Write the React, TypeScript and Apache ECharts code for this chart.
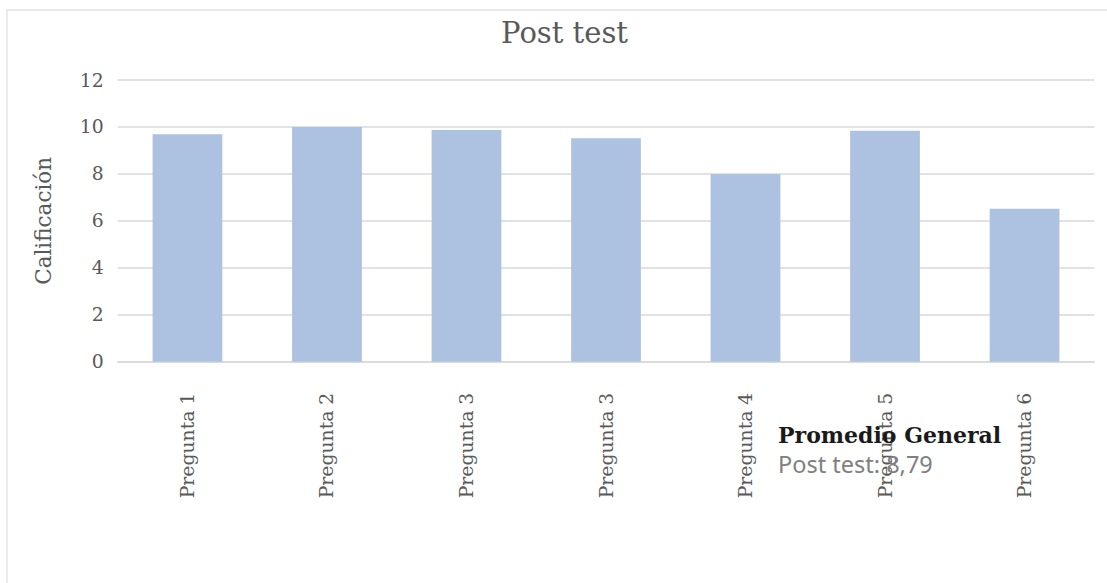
import React, { useEffect, useRef } from "react";
import * as echarts from "echarts";

const categories = ["Pregunta 1", "Pregunta 2", "Pregunta 3", "Pregunta 3", "Pregunta 4", "Pregunta 5", "Pregunta 6"];
const values = [9.69, 10, 9.87, 9.52, 8.0, 9.84, 6.52];
const titleText = "Post test";
const yAxisName = "Calificación";
const noteTitle = "Promedio General";
const noteText = "Post test: 8,79";

const SERIF = "'DejaVu Serif', serif";

export default function App() {
  const ref = useRef<HTMLDivElement>(null);
  useEffect(() => {
    document.body.style.margin = "0";
    const chart = echarts.init(ref.current!, undefined, { renderer: "svg" });
    chart.setOption({
      animation: false,
      backgroundColor: "#ffffff",
      textStyle: { fontFamily: SERIF },
      grid: { left: 117.7, right: 12.7, top: 80, bottom: 221.3, containLabel: false },
      xAxis: {
        type: "category",
        data: categories,
        axisLine: { show: true, lineStyle: { color: "#d9d9d9", width: 1.5 } },
        axisTick: { show: false },
        axisLabel: {
          rotate: 90,
          margin: 31,
          fontSize: 18.8,
          color: "#595959",
          fontFamily: SERIF,
          interval: 0,
        },
      },
      yAxis: {
        type: "value",
        min: 0,
        max: 12,
        interval: 2,
        name: yAxisName,
        nameLocation: "middle",
        nameGap: 63,
        nameTextStyle: { fontSize: 21.5, color: "#595959", fontFamily: SERIF },
        axisLine: { show: false },
        axisTick: { show: false },
        axisLabel: { fontSize: 18.8, color: "#595959", margin: 14, fontFamily: SERIF },
        splitLine: { lineStyle: { color: "#d9d9d9", width: 1.5 } },
      },
      series: [
        {
          type: "bar",
          data: values,
          barWidth: "50%",
          itemStyle: { color: "#adc2e0" },
        },
      ],
      graphic: [
        {
          type: "rect",
          shape: { x: 7, y: 10, width: 1300, height: 800 },
          style: { fill: "none", stroke: "#e3e3e3", lineWidth: 1.5 },
          silent: true,
          z: 100,
        },
        {
          type: "text",
          x: 564.5,
          y: 33,
          style: {
            text: titleText,
            fontSize: 29,
            fontFamily: SERIF,
            fill: "#595959",
            textAlign: "center",
            textVerticalAlign: "middle",
          },
          z: 100,
        },
        {
          type: "text",
          x: 778,
          y: 435,
          style: {
            text: noteTitle,
            fontSize: 22,
            fontWeight: "bold",
            fontFamily: SERIF,
            fill: "#1a1a1a",
            textAlign: "left",
            textVerticalAlign: "middle",
          },
          z: 100,
        },
        {
          type: "text",
          x: 778,
          y: 464,
          style: {
            text: noteText,
            fontSize: 23.5,
            fontFamily: "'Noto Sans', sans-serif",
            fill: "#808080",
            textAlign: "left",
            textVerticalAlign: "middle",
          },
          z: 100,
        },
      ],
    });
    return () => chart.dispose();
  }, []);
  return <div ref={ref} style={{ width: 1107, height: 583 }} />;
}
